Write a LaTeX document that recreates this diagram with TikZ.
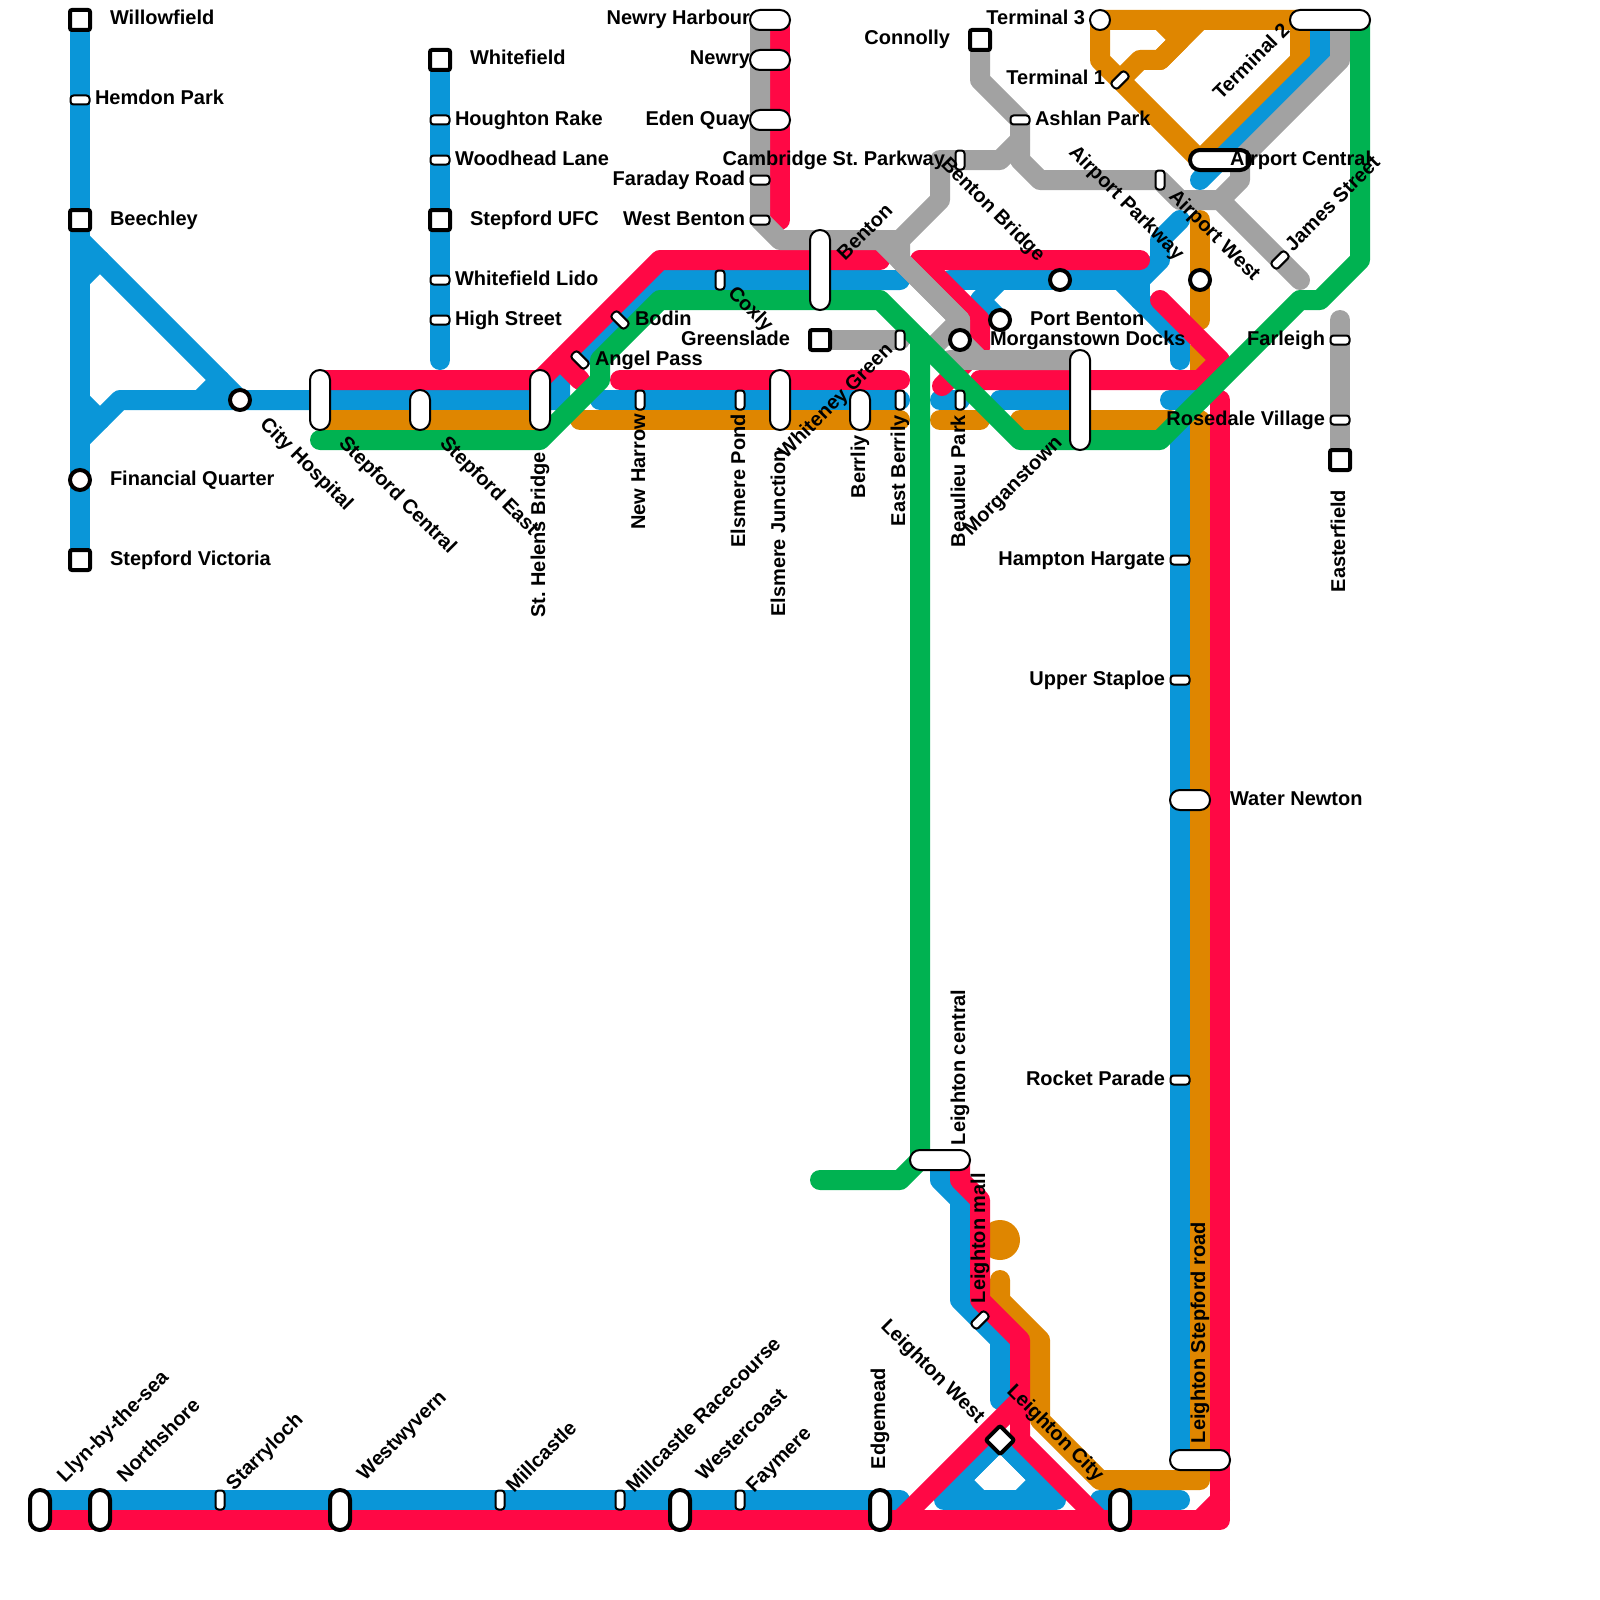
\documentclass[tikz,border=0pt]{standalone}
\usepackage{fontspec}
\setmainfont{Liberation Sans}
\usetikzlibrary{backgrounds}
\frenchspacing
\definecolor{cred}{HTML}{FF0845}
\definecolor{cblue}{HTML}{0A96D8}
\definecolor{corange}{HTML}{DF8600}
\definecolor{cgreen}{HTML}{00B251}
\definecolor{cgrey}{HTML}{A2A2A2}
\tikzset{
  ln/.style={line width=20pt,line cap=round,line join=round},
  redln/.style={ln,draw=cred},
  blueln/.style={ln,draw=cblue},
  orangeln/.style={ln,draw=corange},
  greenln/.style={ln,draw=cgreen},
  greyln/.style={ln,draw=cgrey},
  stn/.style={draw=black,fill=white,inner sep=0pt,outer sep=0pt,text width=0pt},
  smh/.style={stn,rectangle,line width=2pt,rounded corners=3pt,minimum width=19pt,minimum height=9pt},
  smv/.style={stn,rectangle,line width=2pt,rounded corners=3pt,minimum width=9pt,minimum height=19pt},
  pill/.style 2 args={stn,rectangle,line width=2pt,rounded corners=9.9pt,minimum width=#1pt,minimum height=#2pt},
  pillk/.style 2 args={stn,rectangle,line width=4pt,rounded corners=9.9pt,minimum width=#1pt,minimum height=#2pt},
  sqr/.style={stn,rectangle,line width=4pt,rounded corners=2pt,minimum width=20pt,minimum height=20pt},
  ring/.style={stn,circle,line width=4pt,minimum size=20pt},
  ringthin/.style={stn,circle,line width=2pt,minimum size=20pt},
  lab/.style={inner sep=0pt,outer sep=0pt,font=\fontsize{20}{22}\selectfont\bfseries,text=black},
  lr/.style={lab,anchor=base west},
  ll/.style={lab,anchor=base east},
}
\begin{document}
\begin{tikzpicture}[x=1pt,y=-1pt]
\useasboundingbox (0,0) rectangle (1600,1600);
% stations
\node[sqr] (sWillowfield) at (80,20) {};
\node[smh] (sHemdon) at (80,100) {};
\node[sqr] (sBeechley) at (80,220) {};
\node[ring] (sFinancial) at (80,480) {};
\node[sqr] (sVictoria) at (80,560) {};
\node[sqr] (sWhitefield) at (440,60) {};
\node[smh] (sHoughton) at (440,120) {};
\node[smh] (sWoodhead) at (440,160) {};
\node[sqr] (sUFC) at (440,220) {};
\node[smh] (sLido) at (440,280) {};
\node[smh] (sHigh) at (440,320) {};
\node[ring] (sCity) at (240,400) {};
\node[pill={20}{60}] (sCentral) at (320,400) {};
\node[pill={20}{40}] (sEast) at (420,410) {};
\node[pill={20}{60}] (sHelens) at (540,400) {};
\node[smh,rotate=-45] (sAngel) at (580,360) {};
\node[smh,rotate=-45] (sBodin) at (620,320) {};
\node[smv] (sCoxly) at (720,280) {};
\node[smv] (sHarrow) at (640,400) {};
\node[smv] (sPond) at (740,400) {};
\node[pill={20}{60}] (sJunction) at (780,400) {};
\node[pill={20}{80}] (sBenton) at (820,270) {};
\node[sqr] (sGreenslade) at (820,340) {};
\node[smv] (sWhiteney) at (900,340) {};
\node[pill={20}{40}] (sBerrliy) at (860,410) {};
\node[smv] (sEastBerrily) at (900,400) {};
\node[smv] (sBeaulieu) at (960,400) {};
\node[pill={20}{100}] (sMorganstown) at (1080,400) {};
\node[ring] (sDocks) at (960,340) {};
\node[ring] (sPort) at (1000,320) {};
\node[ring] (sBridge) at (1060,280) {};
\node[ring] (sAirWest) at (1200,280) {};
\node[smv] (sAirPark) at (1160,180) {};
\node[smh,rotate=45] (sJames) at (1280,260) {};
\node[smh,rotate=45] (sT1) at (1120,80) {};
\node[ringthin] (sT3) at (1100,20) {};
\node[pill={80}{20}] (sT2) at (1330,20) {};
\node[pillk={60}{20}] (sAirCentral) at (1220,160) {};
\node[smh] (sFarleigh) at (1340,340) {};
\node[smh] (sRosedale) at (1340,420) {};
\node[sqr] (sEasterfield) at (1340,460) {};
\node[sqr] (sConnolly) at (980,40) {};
\node[smh] (sAshlan) at (1020,120) {};
\node[smv] (sCambridge) at (960,160) {};
\node[pill={40}{20}] (sHarbour) at (770,20) {};
\node[pill={40}{20}] (sNewry) at (770,60) {};
\node[pill={40}{20}] (sEden) at (770,120) {};
\node[smh] (sFaraday) at (760,180) {};
\node[smh] (sWestBenton) at (760,220) {};
\node[smh] (sHampton) at (1180,560) {};
\node[smh] (sStaploe) at (1180,680) {};
\node[pill={40}{20}] (sWater) at (1190,800) {};
\node[smh] (sRocket) at (1180,1080) {};
\node[pill={60}{20}] (sCentralL) at (940,1160) {};
\node[smh,rotate=45] (sMall) at (980,1320) {};
\node[sqr,rotate=45] (sLWest) at (1000,1440) {};
\node[pill={60}{20}] (sLStepford) at (1200,1460) {};
\node[pillk={20}{40}] (sLlyn) at (40,1510) {};
\node[pillk={20}{40}] (sNorth) at (100,1510) {};
\node[smv] (sStarry) at (220,1500) {};
\node[pillk={20}{40}] (sWestwy) at (340,1510) {};
\node[smv] (sMill) at (500,1500) {};
\node[smv] (sMillR) at (620,1500) {};
\node[pillk={20}{40}] (sWestc) at (680,1510) {};
\node[smv] (sFay) at (740,1500) {};
\node[pillk={20}{40}] (sEdge) at (880,1510) {};
\node[pillk={20}{40}] (sLCity) at (1120,1510) {};
% lines
\begin{pgfonlayer}{background}
% blue
\draw[blueln] (sWillowfield.center) -- (sVictoria.center);
\draw[blueln] (80,240) -- (sCity.center) -- (sCentral.center) -- (540,400) -- (560,400) -- (560,380) -- (660,280) -- (900,280);
\draw[blueln] (80,440) -- (120,400) -- (sCity.center);
\draw[blueln] (80,280) -- (100,260);
\draw[blueln] (80,400) -- (100,420);
\draw[blueln] (220,380) -- (200,400);
\draw[blueln] (sWhitefield.center) -- (440,360);
\draw[blueln] (600,400) -- (900,400);
\draw[blueln] (940,400) -- (sBeaulieu.center);
\draw[blueln] (1000,400) -- (1080,400);
\draw[blueln] (1170,400) -- (1200,400);
\draw[blueln] (1180,420) -- (1180,1460);
\draw[blueln] (950,280) -- (1140,280) -- (1140,300);
\draw[blueln] (sPort.center) -- (980,300) -- (1000,280);
\draw[blueln] (1120,280) -- (1180,340) -- (1180,360);
\draw[blueln] (1180,220) -- (1160,240) -- (1160,260) -- (1140,280);
\draw[blueln] (940,1160) -- (940,1180) -- (960,1200) -- (960,1300) -- (1000,1340) -- (1000,1400);
\draw[blueln] (40,1500) -- (900,1500);
\draw[blueln] (sLWest.center) -- (960,1480) -- (980,1500) -- (1020,1500) -- (1040,1480) -- cycle;
\draw[blueln] (sLWest.center) -- (950,1490);
\draw[blueln] (sLWest.center) -- (1050,1490);
\draw[blueln] (944,1500) -- (1056,1500);
\draw[blueln] (1100,1500) -- (1180,1500);
% orange
\draw[orangeln] (320,420) -- (540,420);
\draw[orangeln] (580,420) -- (900,420);
\draw[orangeln] (940,420) -- (980,420);
\draw[orangeln] (1020,420) -- (1170,420);
\draw[orangeln] (sT3.center) -- (1300,20) -- (1300,60) -- (1200,160) -- (1100,60) -- cycle;
\draw[orangeln] (1120,80) -- (1140,60) -- (1160,60) -- (1200,20);
\draw[orangeln] (1160,20) -- (1180,40) -- (1160,60);
\draw[orangeln] (1200,220) -- (1200,320);
\draw[orangeln,line cap=butt] (1200,345) -- (1200,375);
\draw[orangeln] (1000,1280) -- (1000,1300) -- (1040,1340) -- (1040,1420) -- (1100,1480) -- (1200,1480) -- (1200,420);
\fill[corange] (1000,1240) circle (20pt);
% blue over orange at the airport
\draw[blueln] (1320,20) -- (1320,60) -- (1200,180);
% red
\draw[redln] (320,380) -- (540,380) -- (660,260) -- (880,260);
\draw[redln] (560,360) -- (580,380);
\draw[redln] (620,380) -- (900,380);
\draw[redln] (1140,260) -- (920,260) -- (980,320) -- (980,348) -- (942,386);
\draw[redln] (980,380) -- (1200,380) -- (1220,360) -- (1160,300);
\draw[redln] (780,20) -- (780,220);
\draw[redln] (960,1160) -- (960,1180) -- (980,1200) -- (980,1300) -- (1020,1340) -- (1020,1440) -- (1100,1520);
\draw[redln] (1020,1400) -- (900,1520);
\draw[redln] (40,1520) -- (1220,1520) -- (1220,400);
\draw[redln] (1200,1520) -- (1220,1500);
% grey
\draw[greyln] (760,20) -- (sWestBenton.center) -- (780,240) -- (900,240) -- (940,200) -- (940,160) -- (1000,160) -- (1020,140);
\draw[greyln] (900,240) -- (900,260) -- (960,320) -- (sDocks.center) -- (980,360) -- (1080,360);
\draw[greyln] (880,240) -- (960,320);
\draw[greyln] (960,320) -- (925,355);
\draw[greyln] (950,360) -- (980,360);
\draw[greyln] (sConnolly.center) -- (980,80) -- (sAshlan.center) -- (1020,160) -- (1040,180) -- (1160,180) -- (1180,200) -- (1220,200) -- (1300,280);
\draw[greyln] (1340,20) -- (1340,60) -- (1240,160) -- (1240,180) -- (1220,200);
\draw[greyln] (sGreenslade.center) -- (sWhiteney.center);
\draw[greyln] (1340,320) -- (sEasterfield.center);
% green
\draw[greenln] (320,440) -- (540,440) -- (600,380) -- (600,360) -- (660,300) -- (880,300) -- (1020,440) -- (1160,440) -- (1300,300) -- (1320,300) -- (1360,260) -- (1360,20);
\draw[greenln] (820,1180) -- (900,1180) -- (920,1160) -- (920,340);
\end{pgfonlayer}
% labels
\node[lr] (tWillowfield) at (110,25) {Willowfield};
\node[lr] (tHemdon) at (95,105) {Hemdon Park};
\node[lr] (tBeechley) at (110,225) {Beechley};
\node[lr] (tFinancial) at (110,485) {Financial Quarter};
\node[lr] (tVictoria) at (110,565) {Stepford Victoria};
\node[lr] (tWhitefield) at (470,65) {Whitefield};
\node[lr] (tHoughton) at (455,125) {Houghton Rake};
\node[lr] (tWoodhead) at (455,165) {Woodhead Lane};
\node[lr] (tUFC) at (470,225) {Stepford UFC};
\node[lr] (tLido) at (455,285) {Whitefield Lido};
\node[lr] (tHigh) at (455,325) {High Street};
\node[lr] (tBodin) at (635,325) {Bodin};
\node[lr] (tAngel) at (595,365) {Angel Pass};
\node[lr] (tAshlan) at (1035,125) {Ashlan Park};
\node[lr] (tPort) at (1030,325) {Port Benton};
\node[lr] (tDocks) at (990,345) {Morganstown Docks};
\node[lr] (tAirCentral) at (1230,165) {Airport Central};
\node[lr] (tWater) at (1230,805) {Water Newton};
\node[ll] (tHarbour) at (750,25) {Newry Harbour};
\node[ll] (tNewry) at (750,65) {Newry};
\node[ll] (tEden) at (750,125) {Eden Quay};
\node[ll] (tFaraday) at (745,185) {Faraday Road};
\node[ll] (tWestBenton) at (745,225) {West Benton};
\node[ll] (tConnolly) at (950,45) {Connolly};
\node[ll] (tT3) at (1085,25) {Terminal 3};
\node[ll] (tT1) at (1105,85) {Terminal 1};
\node[ll] (tCambridge) at (945,165) {Cambridge St. Parkway};
\node[ll] (tGreenslade) at (790,345) {Greenslade};
\node[ll] (tHampton) at (1165,565) {Hampton Hargate};
\node[ll] (tStaploe) at (1165,685) {Upper Staploe};
\node[ll] (tRocket) at (1165,1085) {Rocket Parade};
\node[ll] (tFarleigh) at (1325,345) {Farleigh};
\node[ll] (tRosedale) at (1325,425) {Rosedale Village};
% vertical
\node[ll,rotate=90] (tHelens) at (545,452) {St. Helens Bridge};
\node[ll,rotate=90] (tHarrow) at (645,414) {New Harrow};
\node[ll,rotate=90] (tPond) at (745,414) {Elsmere Pond};
\node[ll,rotate=90] (tJunction) at (785,450) {Elsmere Junction};
\node[ll,rotate=90] (tBerrliy) at (865,435) {Berrliy};
\node[ll,rotate=90] (tEastBerrily) at (905,415) {East Berrily};
\node[ll,rotate=90] (tBeaulieu) at (965,415) {Beaulieu Park};
\node[ll,rotate=90] (tEasterfield) at (1345,490) {Easterfield};
\node[lr,rotate=90] (tCentralL) at (965,1145) {Leighton central};
\node[lr,rotate=90] (tMall) at (985,1303) {Leighton mall};
\node[lr,rotate=90] (tLStepford) at (1205,1443) {Leighton Stepford road};
\node[lr,rotate=90] (tEdge) at (885,1469) {Edgemead};
% 45 up
\node[lr,rotate=45] (tT2) at (1221,101) {Terminal 2};
\node[lr,rotate=45] (tJames) at (1293,252) {James Street};
\node[lr,rotate=45] (tBenton) at (845,261) {Benton};
\node[lr,rotate=45] (tWhiteney) at (786,459) {Whiteney Green};
\node[lr,rotate=45] (tMorganstown) at (971,536) {Morganstown};
\node[lr,rotate=45] (tLlyn) at (65,1483) {Llyn-by-the-sea};
\node[lr,rotate=45] (tNorth) at (125,1483) {Northshore};
\node[lr,rotate=45] (tStarry) at (234,1491) {Starryloch};
\node[lr,rotate=45] (tWestwy) at (365,1481) {Westwyvern};
\node[lr,rotate=45] (tMill) at (514,1493) {Millcastle};
\node[lr,rotate=45] (tMillR) at (634,1493) {Millcastle Racecourse};
\node[lr,rotate=45] (tWestc) at (704,1481) {Westercoast};
\node[lr,rotate=45] (tFay) at (754,1493) {Faymere};
% 45 down
\node[lr,rotate=-45] (tCity) at (259,425) {City Hospital};
\node[lr,rotate=-45] (tCentral) at (338,444) {Stepford Central};
\node[lr,rotate=-45] (tEast) at (439,444) {Stepford East};
\node[lr,rotate=-45] (tCoxly) at (727,294) {Coxly};
\node[lr,rotate=-45] (tBridge) at (940,165) {Benton Bridge};
\node[lr,rotate=-45] (tAirPark) at (1068,153) {Airport Parkway};
\node[lr,rotate=-45] (tAirWest) at (1168,197) {Airport West};
\node[lr,rotate=-45] (tLWest) at (880,1327) {Leighton West};
\node[lr,rotate=-45] (tLCity) at (1006,1392) {Leighton City};
\end{tikzpicture}
\end{document}
